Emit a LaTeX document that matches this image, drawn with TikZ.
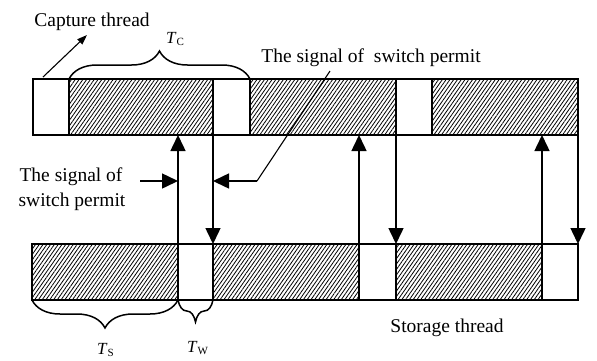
\documentclass[tikz,border=0pt]{standalone}
\usepackage{fontspec}
\setmainfont{Liberation Serif}
\usetikzlibrary{arrows.meta,patterns.meta,decorations.pathreplacing}
\begin{document}
\begin{tikzpicture}[x=1pt,y=-1pt,
  blk/.style={draw, line width=1.8pt, inner sep=0pt, outer sep=0pt, minimum height=56pt, anchor=north west},
  hatch/.style={blk, pattern={Lines[angle=55,distance=3.1pt,line width=0.8pt]}},
  wbox/.style={blk, fill=white},
  arr/.style={line width=1.5pt, -{Triangle[length=16pt,width=15pt]}},
  thin/.style={line width=1.1pt},
  br/.style={decorate, decoration={brace, amplitude=#1}, line width=1.5pt},
  lbl/.style={inner sep=0pt, anchor=base, font=\fontsize{19.5}{24}\selectfont},
  tlbl/.style={inner sep=0pt, anchor=base west, font=\fontsize{17}{20}\selectfont}]
\useasboundingbox (0,0) rectangle (597,360);
% capture thread (top bar)
\node[wbox,  minimum width=36pt]  (c1) at (33,79) {};
\node[hatch, minimum width=144pt] (c2) at (69,79) {};
\node[wbox,  minimum width=37pt]  (c3) at (213,79) {};
\node[hatch, minimum width=146pt] (c4) at (250,79) {};
\node[wbox,  minimum width=36pt]  (c5) at (396,79) {};
\node[hatch, minimum width=146pt] (c6) at (432,79) {};
% storage thread (bottom bar)
\node[hatch, minimum width=146pt] (s1) at (32,244) {};
\node[wbox,  minimum width=35pt]  (s2) at (178,244) {};
\node[hatch, minimum width=146pt] (s3) at (213,244) {};
\node[wbox,  minimum width=37pt]  (s4) at (359,244) {};
\node[hatch, minimum width=146pt] (s5) at (396,244) {};
\node[wbox,  minimum width=36pt]  (s6) at (542,244) {};
% vertical arrows
\draw[arr] (s2.north west) -- (s2.north west |- c2.south);
\draw[arr] (c3.south west) -- (s3.north west);
\draw[arr] (s4.north west) -- (s4.north west |- c4.south);
\draw[arr] (c5.south west) -- (s5.north west);
\draw[arr] (s6.north west) -- (s6.north west |- c6.south);
\draw[arr] (c6.south east) -- (s6.north east);
% switch permit arrows
\coordinate (la) at (140,181);
\coordinate (ra) at (257,181);
\coordinate (rt) at (330,71);
\draw[arr] (la) -- (la -| s2.west);
\draw[arr] (ra) -- (ra -| s3.west);
\draw[thin] (ra) -- (rt);
% capture thread label
\node[lbl] (capt) at (92,26) {Capture thread};
\coordinate (ca0) at (43,77);
\coordinate (ca1) at (87,35);
\draw[thin, -{Triangle[length=10pt,width=7pt]}] (ca0) -- (ca1);
% braces
\draw[br=28pt] (c2.north west) -- (c3.north east);
\draw[br=28pt] (s1.south east) -- (s1.south west);
\draw[br=22pt] (s2.south east) -- (s2.south west);
% labels
\node[tlbl] (tc) at (166,43) {\textit{T}{\fontsize{11}{12}\selectfont\raisebox{-2pt}{C}}};
\node[tlbl] (tw) at (187,352) {\textit{T}{\fontsize{11}{12}\selectfont\raisebox{-2pt}{W}}};
\node[tlbl] (ts) at (97,354) {\textit{T}{\fontsize{11}{12}\selectfont\raisebox{-2pt}{S}}};
\node[lbl] (sp) at (371,62) {The signal of\ \ switch permit};
\node[lbl] (sl1) at (71,181) {The signal of};
\node[lbl] (sl2) at (72,206) {switch permit};
\node[lbl] (st) at (447,332) {Storage thread};
\end{tikzpicture}
\end{document}
